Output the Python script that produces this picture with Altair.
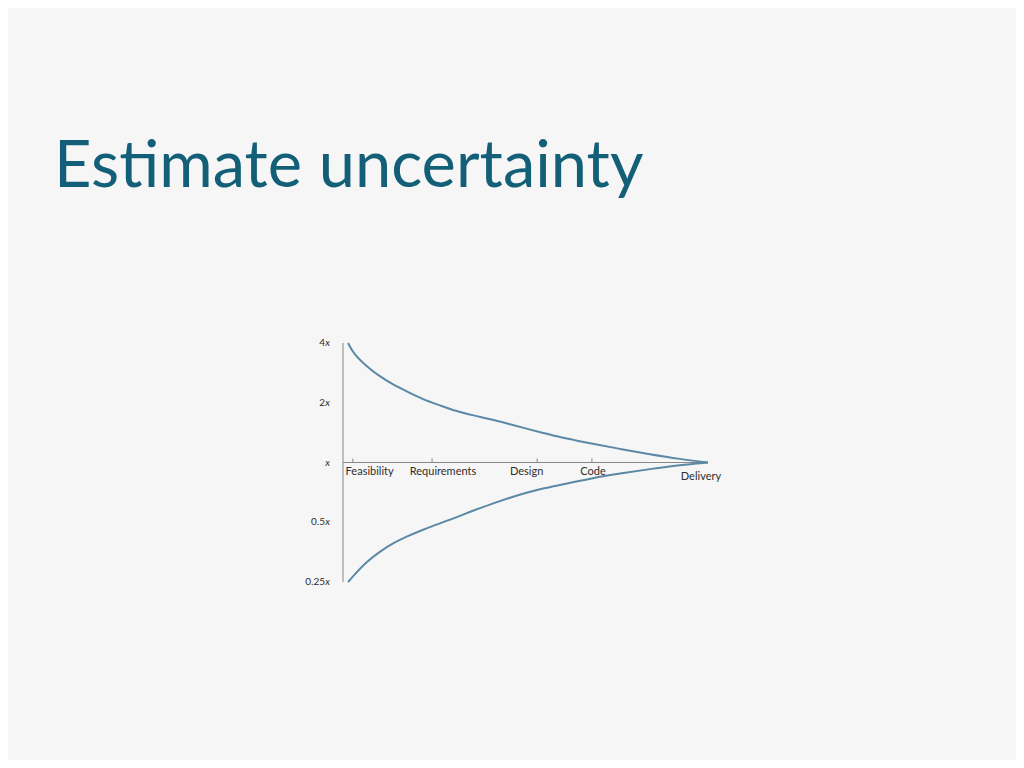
import altair as alt
import pandas as pd

# ---- data ----
progress = [1.4, 2.8, 6.5, 10.1, 13.7, 17.5, 21.9, 26.6, 31.2, 35.6, 41.1,
            45.8, 50.3, 54.8, 59.5, 64.0, 67.7, 75.9, 84.1, 92.3, 100]
upper = [4.0, 3.55, 3.05, 2.71, 2.47, 2.28, 2.08, 1.94, 1.81, 1.73, 1.64,
         1.56, 1.48, 1.41, 1.34, 1.29, 1.25, 1.17, 1.10, 1.04, 1.0]
lower = [0.25, 0.268, 0.317, 0.356, 0.392, 0.424, 0.459, 0.494, 0.530, 0.572, 0.622,
         0.666, 0.705, 0.740, 0.770, 0.802, 0.831, 0.880, 0.927, 0.971, 1.0]

phases = ["Feasibility", "Requirements", "Design", "Code"]
phase_ticks = [2.7, 24.4, 53.2, 68.2]
phase_label_x = [7.3, 27.4, 50.3, 68.5]
end_label = "Delivery"
end_x = 100

y_values = [4, 2, 1, 0.5, 0.25]
y_numbers = ["4", "2", "", "0.5", "0.25"]

title_text = "Estimate uncertainty"

# ---- tables ----
curves = pd.DataFrame({
    "progress": progress * 2,
    "factor": upper + lower,
    "series": ["upper"] * len(progress) + ["lower"] * len(progress),
})
phase_df = pd.DataFrame({"phase": phases, "tick": phase_ticks, "lx": phase_label_x,
                         "base": [1] * len(phases)})
ylab = pd.DataFrame({"v": y_values, "num": y_numbers, "xs": ["x"] * len(y_values),
                     "zero": [0] * len(y_values)})
axes_df = pd.DataFrame({"x0": [0], "x1": [end_x], "y0": [min(y_values)],
                        "y1": [max(y_values)], "base": [1], "label": [end_label]})

xs = alt.Scale(domain=[0, 100], nice=False, zero=False)
ys = alt.Scale(type="log", base=2, domain=[0.25, 4], nice=False)

LINE = "#5b89a5"
AXIS = "#888888"
TXT = "#2e2e2e"
FONT = "Lato"

X = lambda f: alt.X(f, scale=xs, axis=None)
Y = lambda f: alt.Y(f, scale=ys, axis=None)

lines = alt.Chart(curves).mark_line(
    interpolate="basis", strokeWidth=2, color=LINE
).encode(x=X("progress:Q"), y=Y("factor:Q"), detail="series:N")

v_axis = alt.Chart(axes_df).mark_rule(color=AXIS, strokeWidth=1).encode(
    x=X("x0:Q"), y=Y("y0:Q"), y2="y1:Q"
)
h_axis = alt.Chart(axes_df).mark_rule(color=AXIS, strokeWidth=1).encode(
    x=X("x0:Q"), x2="x1:Q", y=Y("base:Q")
)

ticks = alt.Chart(phase_df).mark_rule(
    color=AXIS, strokeWidth=1, y2Offset=-4
).encode(x=X("tick:Q"), y=Y("base:Q"), y2="base:Q")

phase_text = alt.Chart(phase_df).mark_text(
    font=FONT, fontSize=11, color=TXT, baseline="middle", align="center", dy=9
).encode(x=X("lx:Q"), y=Y("base:Q"), text="phase:N")

end_text = alt.Chart(axes_df).mark_text(
    font=FONT, fontSize=11, color=TXT, baseline="middle", align="center", dy=14, dx=-7
).encode(x=X("x1:Q"), y=Y("base:Q"), text="label:N")

ynum = alt.Chart(ylab).mark_text(
    font=FONT, fontSize=10, color=TXT, baseline="middle", align="right", dx=-18
).encode(x=X("zero:Q"), y=Y("v:Q"), text="num:N")

yx = alt.Chart(ylab).mark_text(
    font=FONT, fontSize=10, color=TXT, baseline="middle", align="right", dx=-13,
    fontStyle="italic"
).encode(x=X("zero:Q"), y=Y("v:Q"), text="xs:N")

chart = alt.layer(
    v_axis, h_axis, ticks, lines, phase_text, end_text, ynum, yx
).properties(
    width=365,
    height=239,
    autosize=alt.AutoSizeParams(type="none"),
    padding={"left": 335, "top": 335, "right": 308, "bottom": 178},
    title=alt.Title(
        text=title_text, anchor="start", frame="group", dx=-289, offset=86,
        baseline="alphabetic", font=FONT, fontSize=65, fontWeight="normal",
        color="#145f78",
    ),
).configure(background="#f6f6f6").configure_view(strokeWidth=0)

chart.save("out.html", embed_options={"renderer": "svg", "actions": False})
